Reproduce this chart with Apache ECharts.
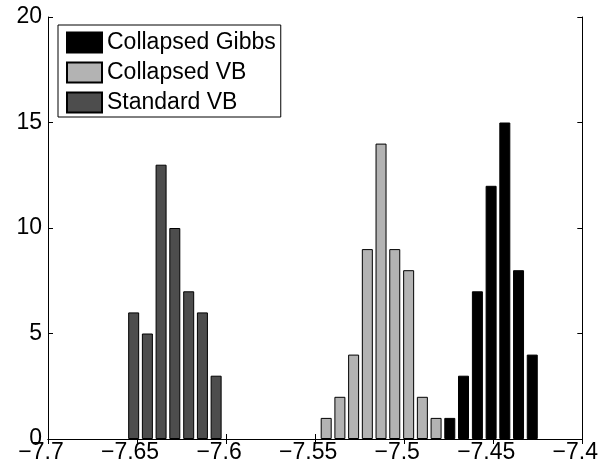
<!DOCTYPE html>
<html>
<head>
<meta charset="utf-8">
<script src="https://cdn.jsdelivr.net/npm/echarts@6/dist/echarts.min.js"></script>
<style>
  html, body { margin: 0; padding: 0; background: #fff; }
  #chart { width: 601px; height: 469px; }
</style>
</head>
<body>
<div id="chart"></div>
<script>
// Histogram bin centres shared by all three estimators
const binCenters = [
  -7.6519, -7.6442, -7.6365, -7.6288, -7.6210, -7.6133, -7.6056, -7.5979,
  -7.5902, -7.5824, -7.5747, -7.5670, -7.5593, -7.5516, -7.5438, -7.5361,
  -7.5284, -7.5207, -7.5130, -7.5053, -7.4975, -7.4898, -7.4821, -7.4744,
  -7.4667, -7.4589, -7.4512, -7.4435, -7.4358, -7.4281
];

// Counts per bin
const standardVB = [6, 5, 13, 10, 7, 6, 3, 0, 0, 0, 0, 0, 0, 0, 0, 0,
                    0, 0, 0, 0, 0, 0, 0, 0, 0, 0, 0, 0, 0, 0];
const collapsedVB = [0, 0, 0, 0, 0, 0, 0, 0, 0, 0, 0, 0, 0, 0, 1, 2,
                     4, 9, 14, 9, 8, 2, 1, 0, 0, 0, 0, 0, 0, 0];
const collapsedGibbs = [0, 0, 0, 0, 0, 0, 0, 0, 0, 0, 0, 0, 0, 0, 0, 0,
                        0, 0, 0, 0, 0, 0, 0, 1, 3, 7, 12, 15, 8, 4];

const seriesNames = ['Collapsed Gibbs', 'Collapsed VB', 'Standard VB'];

const xTickLabels = ['\u22127.7', '\u22127.65', '\u22127.6', '\u22127.55', '\u22127.5', '\u22127.45', '\u22127.4'];
const yTickLabels = ['0', '5', '10', '15', '20'];

// Pick a narrow sans face if one is installed, otherwise regular Liberation Sans
function fontAvailable(name) {
  const ctx = document.createElement('canvas').getContext('2d');
  ctx.font = '40px monospace';
  const base = ctx.measureText('Collapsed Gibbs 7.65').width;
  ctx.font = '40px "' + name + '", monospace';
  return ctx.measureText('Collapsed Gibbs 7.65').width !== base;
}
const narrow = fontAvailable('Liberation Sans Narrow');
const FONT = narrow ? '"Liberation Sans Narrow"' : '"Liberation Sans", Arial, sans-serif';
const FS = narrow ? 28 : 23;

function toPairs(counts) {
  const out = [];
  counts.forEach((c, i) => { if (c > 0) out.push([binCenters[i], c]); });
  return out;
}

function barSeries(name, counts, color) {
  return {
    name: name,
    type: 'bar',
    data: toPairs(counts),
    barWidth: 11,
    barGap: '-100%',
    itemStyle: { color: color, borderColor: '#000', borderWidth: 1 },
    emphasis: { disabled: true },
    animation: false
  };
}

const X_MIN = -7.7, X_STEP = 0.05;

const chart = echarts.init(document.getElementById('chart'), null, { renderer: 'canvas' });
chart.setOption({
  animation: false,
  backgroundColor: '#fff',
  textStyle: { fontFamily: FONT },
  grid: { left: 48, right: 18, top: 17, bottom: 30, containLabel: false },
  legend: {
    orient: 'vertical',
    left: 58,
    top: 25,
    data: seriesNames,
    icon: 'rect',
    itemWidth: 35,
    itemHeight: 20,
    itemGap: 7,
    padding: [6, 5, 3, 8],
    borderColor: '#000',
    borderWidth: 1,
    backgroundColor: '#fff',
    selectedMode: false,
    textStyle: { fontFamily: FONT, fontSize: FS, color: '#000', lineHeight: 20 }
  },
  xAxis: [{
    type: 'value',
    min: X_MIN,
    max: -7.4,
    interval: X_STEP,
    axisLine: { lineStyle: { color: '#000', width: 1 } },
    axisTick: { inside: true, length: 5, lineStyle: { color: '#000' } },
    splitLine: { show: false },
    axisLabel: {
      color: '#000',
      fontFamily: FONT,
      fontSize: FS,
      margin: 2,
      padding: [0, 14, 0, 0],
      formatter: v => xTickLabels[Math.round((v - X_MIN) / X_STEP)]
    }
  }, {
    type: 'value',
    position: 'top',
    min: X_MIN,
    max: -7.4,
    interval: X_STEP,
    axisLine: { lineStyle: { color: '#000', width: 1 } },
    axisTick: { inside: true, length: 5, lineStyle: { color: '#000' } },
    axisLabel: { show: false },
    splitLine: { show: false }
  }],
  yAxis: [{
    type: 'value',
    min: 0,
    max: 20,
    interval: 5,
    axisLine: { show: true, lineStyle: { color: '#000', width: 1 } },
    axisTick: { show: true, inside: true, length: 5, lineStyle: { color: '#000' } },
    splitLine: { show: false },
    axisLabel: {
      color: '#000',
      fontFamily: FONT,
      fontSize: FS,
      margin: 6,
      formatter: v => yTickLabels[Math.round(v / 5)]
    }
  }, {
    type: 'value',
    position: 'right',
    min: 0,
    max: 20,
    interval: 5,
    axisLine: { show: true, lineStyle: { color: '#000', width: 1 } },
    axisTick: { show: true, inside: true, length: 5, lineStyle: { color: '#000' } },
    axisLabel: { show: false },
    splitLine: { show: false }
  }],
  series: [
    barSeries(seriesNames[0], collapsedGibbs, '#000000'),
    barSeries(seriesNames[1], collapsedVB, '#b3b3b3'),
    barSeries(seriesNames[2], standardVB, '#4d4d4d')
  ]
});
</script>
</body>
</html>
